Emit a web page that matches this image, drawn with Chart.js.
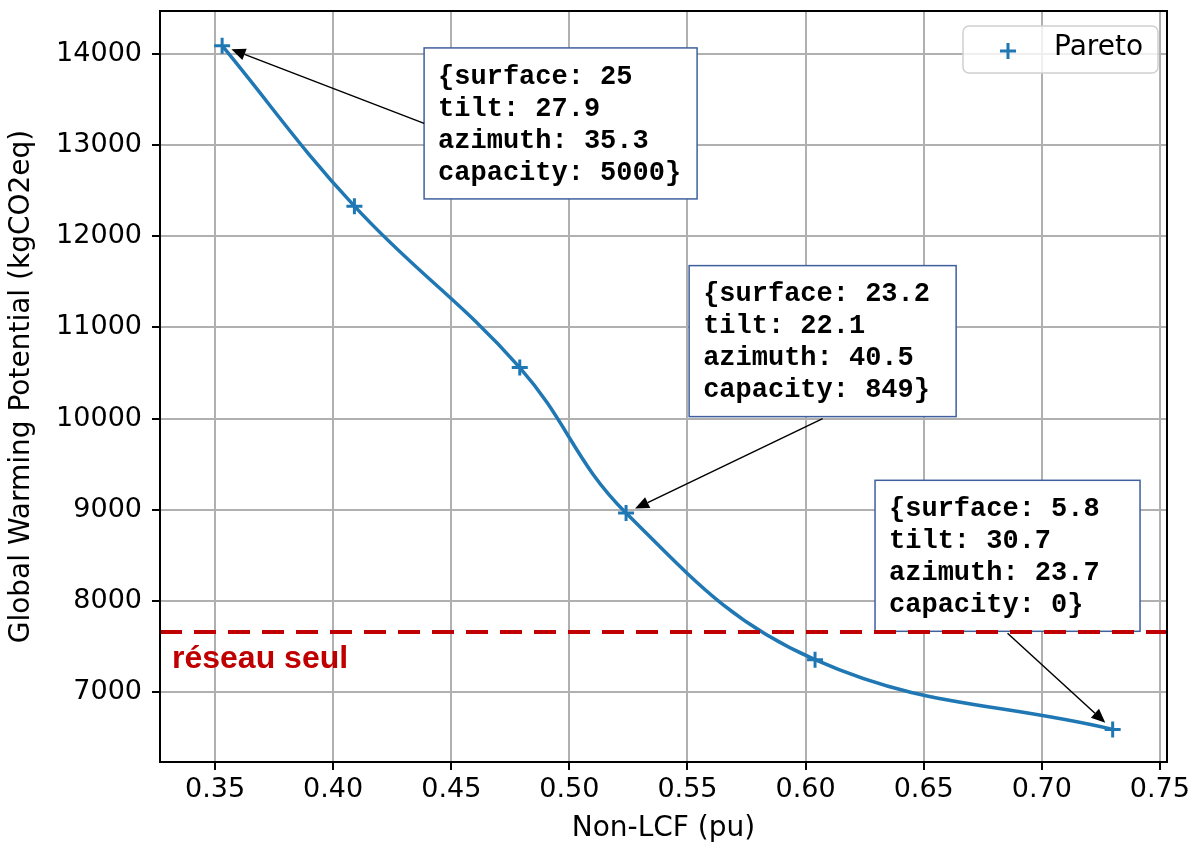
<!DOCTYPE html>
<html>
<head>
<meta charset="utf-8">
<script src="https://cdn.jsdelivr.net/npm/chart.js@4.4.1/dist/chart.umd.min.js"></script>
<style>
html,body{margin:0;padding:0;background:#fff;}
#wrap{width:1190px;height:848px;}
</style>
</head>
<body>
<div id="wrap"><canvas id="c" width="1190" height="848"></canvas></div>
<script>
// front de Pareto
var paretoX = [0.353, 0.409, 0.479, 0.524, 0.604, 0.730];
var paretoY = [14090, 12330, 10560, 8965, 7355, 6590];
var xTicks = [0.35, 0.40, 0.45, 0.50, 0.55, 0.60, 0.65, 0.70, 0.75];
var yTicks = [7000, 8000, 9000, 10000, 11000, 12000, 13000, 14000];
var reseauSeul = 7660;

// annotations : indice du point, texte, coin haut-gauche de la boite (coord. données)
var noteIdx = [0, 3, 5];
var noteText = [
	['{surface: 25', 'tilt: 27.9', 'azimuth: 35.3', 'capacity: 5000}'],
	['{surface: 23.2', 'tilt: 22.1', 'azimuth: 40.5', 'capacity: 849}'],
	['{surface: 5.8', 'tilt: 30.7', 'azimuth: 23.7', 'capacity: 0}']
];
var noteX = [0.4385, 0.5507, 0.6294];
var noteY = [14066, 11678, 9323];

var blue = '#1f77b4';
var red = '#c00000';
var boxW = [273, 267, 265];
var boxH = 151;
var boxRel = [[0, 0.5], [0.5, 1], [0.5, 1]];

function arrow(ctx, x0, y0, x1, y1) {
	var a = Math.atan2(y1 - y0, x1 - x0);
	var shrink = 10;
	x1 = x1 - Math.cos(a) * shrink;
	y1 = y1 - Math.sin(a) * shrink;
	var hl = 14, hw = 6;
	var bx = x1 - Math.cos(a) * hl, by = y1 - Math.sin(a) * hl;
	ctx.beginPath();
	ctx.moveTo(x0, y0);
	ctx.lineTo(bx, by);
	ctx.strokeStyle = '#000';
	ctx.lineWidth = 1.5;
	ctx.stroke();
	ctx.beginPath();
	ctx.moveTo(x1, y1);
	ctx.lineTo(bx + Math.sin(a) * hw, by - Math.cos(a) * hw);
	ctx.lineTo(bx - Math.sin(a) * hw, by + Math.cos(a) * hw);
	ctx.closePath();
	ctx.fillStyle = '#000';
	ctx.fill();
}

var decor = {
	id: 'decor',
	afterDatasetsDraw: function(chart) {
		var ctx = chart.ctx, xs = chart.scales.x, ys = chart.scales.y, ca = chart.chartArea;
		ctx.save();

		// boites + fleches
		for (var k = 0; k < noteIdx.length; k++) {
			var i = noteIdx[k];
			var px = xs.getPixelForValue(paretoX[i]), py = ys.getPixelForValue(paretoY[i]);
			var bx = xs.getPixelForValue(noteX[k]), by = ys.getPixelForValue(noteY[k]);
			ctx.fillStyle = '#fff';
			ctx.fillRect(bx, by, boxW[k], boxH);
			ctx.strokeStyle = '#3f5f9f';
			ctx.lineWidth = 1.5;
			ctx.strokeRect(bx, by, boxW[k], boxH);
			ctx.fillStyle = '#000';
			ctx.font = 'bold 27px "Courier New", "Liberation Mono", monospace';
			ctx.textBaseline = 'middle';
			ctx.textAlign = 'left';
			for (var l = 0; l < noteText[k].length; l++) {
				ctx.fillText(noteText[k][l], bx + 14, by + 29 + l * 32);
			}
			arrow(ctx, bx + boxW[k] * boxRel[k][0], by + boxH * boxRel[k][1] + (boxRel[k][1] == 1 ? 2 : 0), px, py);
		}

		// réseau seul
		var ry = ys.getPixelForValue(reseauSeul);
		ctx.beginPath();
		ctx.setLineDash([22, 12]);
		ctx.moveTo(ca.left, ry);
		ctx.lineTo(ca.right, ry);
		ctx.strokeStyle = red;
		ctx.lineWidth = 4;
		ctx.stroke();
		ctx.setLineDash([]);
		ctx.fillStyle = red;
		ctx.font = 'bold 32px "Liberation Sans", Arial, sans-serif';
		ctx.textBaseline = 'alphabetic';
		ctx.fillText('réseau seul', ca.left + 12, ry + 36);

		// légende
		var lx = ca.right - 204, ly = ca.top + 15, lw = 195, lh = 47;
		ctx.beginPath();
		ctx.roundRect(lx, ly, lw, lh, 6);
		ctx.fillStyle = 'rgba(255,255,255,0.8)';
		ctx.fill();
		ctx.strokeStyle = '#d0d0d0';
		ctx.lineWidth = 1.5;
		ctx.stroke();
		ctx.beginPath();
		ctx.moveTo(lx + 37, ly + 25); ctx.lineTo(lx + 53, ly + 25);
		ctx.moveTo(lx + 45, ly + 17); ctx.lineTo(lx + 45, ly + 33);
		ctx.strokeStyle = blue;
		ctx.lineWidth = 3;
		ctx.stroke();
		ctx.fillStyle = '#000';
		ctx.font = '28px "DejaVu Sans", sans-serif';
		ctx.textBaseline = 'middle';
		ctx.fillText('Pareto', lx + 91, ly + 22);

		// cadre
		ctx.strokeStyle = '#000';
		ctx.lineWidth = 2;
		ctx.strokeRect(ca.left, ca.top, ca.right - ca.left, ca.bottom - ca.top);
		ctx.restore();
	}
};

var tickFont = {family: 'DejaVu Sans', size: 27};
var titleFont = {family: 'DejaVu Sans', size: 28};

new Chart(document.getElementById('c'), {
	type: 'scatter',
	data: {
		datasets: [{
			label: 'Pareto',
			data: paretoX.map(function(x, i) { return {x: x, y: paretoY[i]}; }),
			showLine: true,
			borderColor: blue,
			backgroundColor: blue,
			borderWidth: 3.5,
			pointStyle: 'cross',
			pointRadius: 8,
			pointBorderWidth: 3,
			tension: 0.4
		}]
	},
	options: {
		responsive: false,
		animation: false,
		layout: {padding: {top: 10, right: 23, left: 0, bottom: 0}},
		plugins: {legend: {display: false}, tooltip: {enabled: false}},
		scales: {
			x: {
				type: 'linear',
				min: 0.3267,
				max: 0.753,
				afterFit: function(s) { s.height = 86; s.paddingLeft = 0; s.paddingRight = 0; },
				afterBuildTicks: function(s) { s.ticks = xTicks.map(function(v) { return {value: v}; }); },
				ticks: {
					callback: function(v) { return v.toFixed(2); },
					font: tickFont, color: '#000', padding: 4, maxRotation: 0, autoSkip: false
				},
				grid: {color: '#b0b0b0', lineWidth: 2, tickColor: '#000', tickLength: 8},
				border: {display: false},
				title: {display: true, text: 'Non-LCF (pu)', font: titleFont, color: '#000', padding: {top: 2, bottom: 2}}
			},
			y: {
				type: 'linear',
				min: 6233,
				max: 14471,
				afterFit: function(s) { s.width = 160; s.paddingTop = 0; s.paddingBottom = 0; },
				afterBuildTicks: function(s) { s.ticks = yTicks.map(function(v) { return {value: v}; }); },
				ticks: {
					callback: function(v) { return String(v); },
					font: tickFont, color: '#000', padding: 10, autoSkip: false
				},
				grid: {color: '#b0b0b0', lineWidth: 2, tickColor: '#000', tickLength: 8},
				border: {display: false},
				title: {display: true, text: 'Global Warming Potential (kgCO2eq)', font: titleFont, color: '#000', padding: {top: 5, bottom: 5}}
			}
		}
	},
	plugins: [decor]
});
</script>
</body>
</html>
